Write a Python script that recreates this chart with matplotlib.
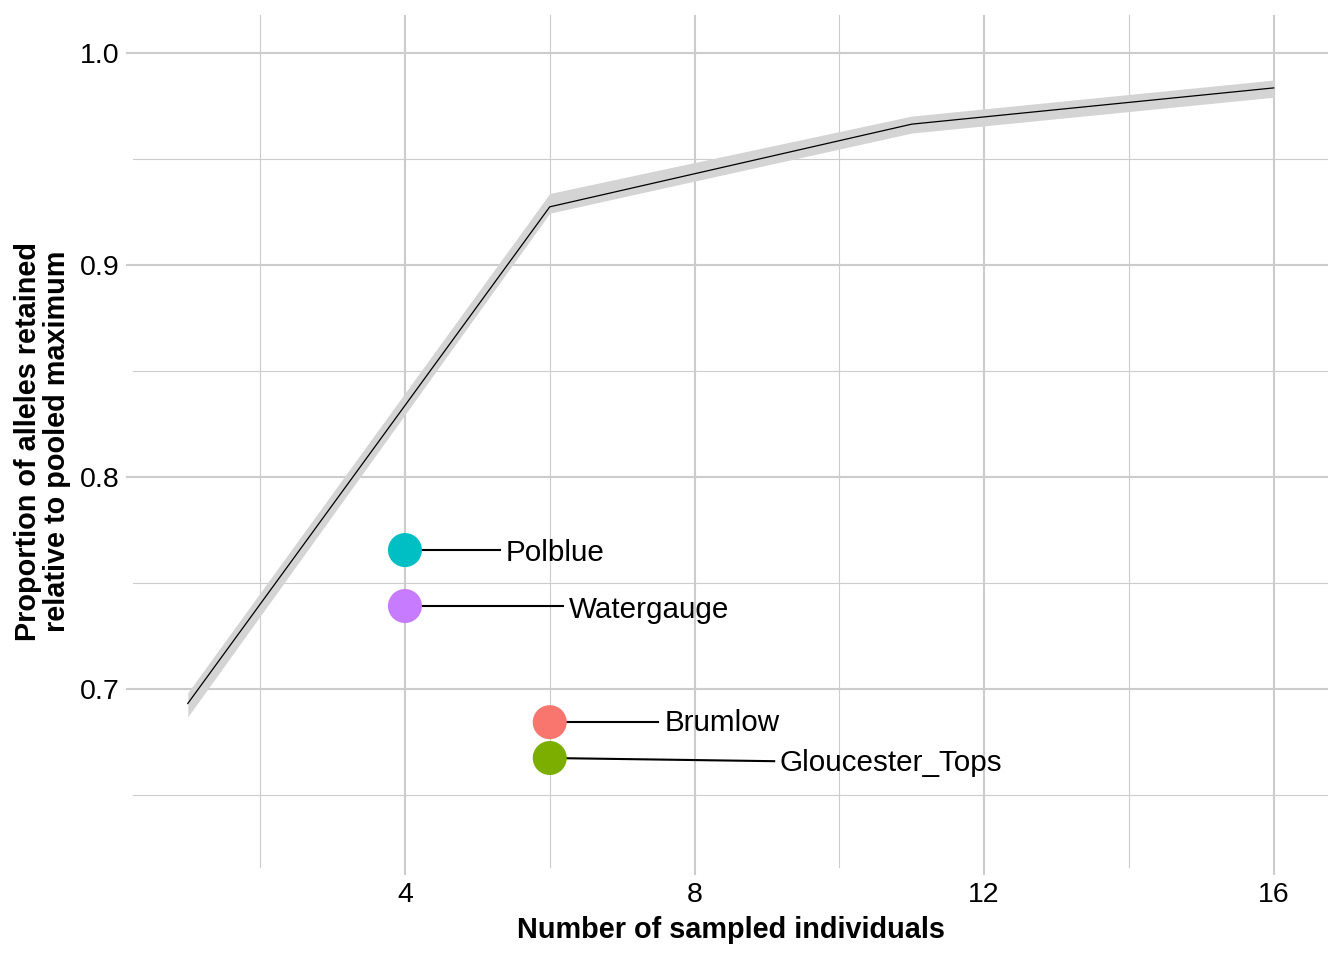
import matplotlib.pyplot as plt

plt.rcParams['font.family'] = ['Liberation Sans', 'DejaVu Sans']

# rarefaction curve (mean with ribbon)
n_ind = [1, 6, 11, 16]
prop_mean = [0.6932, 0.9275, 0.9665, 0.9836]
prop_lo = [0.6869, 0.9245, 0.9623, 0.9792]
prop_hi = [0.6983, 0.9338, 0.9703, 0.9873]

# sites
sites = ["Brumlow", "Gloucester_Tops", "Polblue", "Watergauge"]
site_n = [6, 6, 4, 4]
site_prop = [0.6844, 0.6675, 0.7656, 0.7392]
site_col = ["#F8766D", "#7CAE00", "#00BFC4", "#C77CFF"]

# repelled label positions
lab_x = [7.58, 9.18, 5.39, 6.26]
lab_y = [0.6838, 0.6650, 0.7640, 0.7375]
seg_y = [0.6844, 0.6660, 0.7656, 0.7392]

fig = plt.figure(figsize=(13.44, 9.6), dpi=100)
ax = fig.add_axes([0.0993, 0.0958, 0.8888, 0.8886])

ax.fill_between(n_ind, prop_lo, prop_hi, color="#D4D4D4", lw=0, zorder=2)
ax.plot(n_ind, prop_mean, color="black", lw=0.9, zorder=3)

for i in range(len(sites)):
    ax.plot([site_n[i], lab_x[i] - 0.08], [site_prop[i], seg_y[i]],
            color="black", lw=1.5, zorder=3)
    ax.scatter(site_n[i], site_prop[i], s=600, color=site_col[i],
               edgecolors="none", zorder=4)
    ax.text(lab_x[i], lab_y[i], sites[i], fontsize=21.3, va="center",
            ha="left", zorder=5)

ax.set_xlim(0.25, 16.75)
ax.set_ylim(0.6156, 1.018)
ax.set_xticks([4, 8, 12, 16])
ax.set_xticks([2, 6, 10, 14], minor=True)
ax.set_yticks([0.7, 0.8, 0.9, 1.0])
ax.set_yticks([0.65, 0.75, 0.85, 0.95], minor=True)
ax.set_yticklabels(["0.7", "0.8", "0.9", "1.0"])

ax.grid(which="major", color="#CCCCCC", lw=1.5)
ax.grid(which="minor", color="#CCCCCC", lw=0.8)
ax.set_axisbelow(True)
for s in ax.spines.values():
    s.set_visible(False)
ax.tick_params(which="major", length=5, width=1.5, color="#CCCCCC",
               labelsize=20.5, pad=5)
ax.tick_params(which="minor", length=0)

ax.set_xlabel("Number of sampled individuals", fontsize=20.8,
              fontweight="bold", labelpad=6)
ax.set_ylabel("Proportion of alleles retained\nrelative to pooled maximum",
              fontsize=20.8, fontweight="bold", labelpad=6, linespacing=1.05)

fig.savefig("out.png", dpi=100)
